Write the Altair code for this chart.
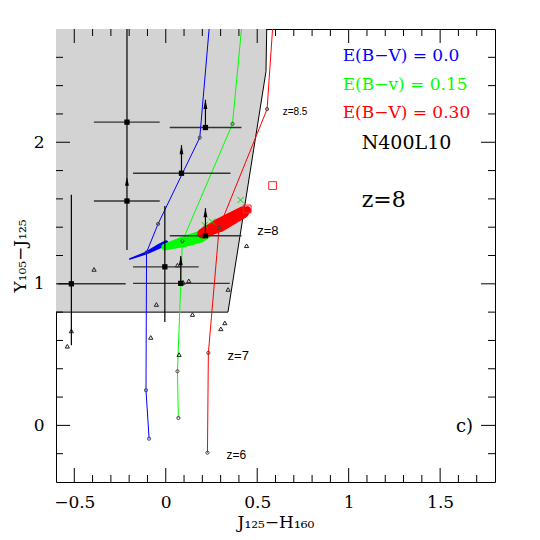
import altair as alt
import pandas as pd

# ---------------- data ----------------
# grey selection region: right boundary (J-H as a function of Y-J)
region_y = [0.8, 2.5, 2.8]
region_x = [0.34, 0.548, 0.552]
# full outline of the region (bottom edge + slanted edge)
outline_x = [-0.6, 0.34, 0.548, 0.552]
outline_y = [0.8, 0.8, 2.5, 2.8]

# model tracks (z = 6, 7, 8, 8.5 ... leaving the frame at the top)
blue_x = [-0.091, -0.108, -0.105, -0.042, 0.186, 0.237]
blue_y = [-0.094, 0.248, 1.222, 1.423, 2.033, 2.80]
green_x = [0.069, 0.064, 0.091, 0.365, 0.414]
green_y = [0.052, 0.382, 1.302, 2.130, 2.80]
red_x = [0.228, 0.233, 0.292, 0.554, 0.584]
red_y = [-0.193, 0.512, 1.397, 2.234, 2.80]

# dense clouds around z=8 for the three extinctions (centre line + width)
blue_band_x = [-0.197, -0.108, -0.033, 0.000]
blue_band_y = [1.175, 1.217, 1.267, 1.285]
blue_band_w = [1.5, 3, 5, 6]
green_band_x = [-0.005, 0.104, 0.186, 0.220]
green_band_y = [1.260, 1.300, 1.330, 1.360]
green_band_w = [7, 11, 12, 12]
red_band_x = [0.200, 0.295, 0.423, 0.445]
red_band_y = [1.355, 1.415, 1.505, 1.520]
red_band_w = [10, 14, 12, 8]

green_cross_x = [0.409, 0.253, 0.213]
green_cross_y = [1.592, 1.439, 1.415]
red_sq_x = [0.584, 0.445]
red_sq_y = [1.694, 1.529]

# other model points (open triangles)
tri_x = [-0.392, 0.064, 0.126, 0.095, 0.341, -0.051, 0.146, 0.323, 0.301,
         -0.516, -0.538, -0.082, 0.073, 0.442]
tri_y = [1.102, 1.132, 1.021, 1.010, 0.960, 0.854, 0.783, 0.724, 0.682,
         0.667, 0.559, 0.621, 0.500, 1.269]

# observed galaxies
gal_x = [-0.212, -0.212, 0.217, 0.086, 0.217, -0.005, -0.516, 0.082]
gal_y = [2.142, 1.585, 2.104, 1.781, 1.340, 1.120, 1.000, 1.003]
gal_xlo = [-0.393, -0.393, 0.022, -0.179, 0.022, -0.179, -0.589, -0.179]
gal_xhi = [-0.033, -0.033, 0.414, 0.354, 0.414, 0.180, -0.219, 0.350]
verr_x = [-0.212, -0.212, -0.005, -0.516]
verr_lo = [1.757, 1.238, 0.731, 0.566]
verr_hi = [2.80, 1.585, 1.550, 1.630]
arr_x = [-0.212, 0.217, 0.086, 0.217, 0.082]
arr_from = [1.585, 2.104, 1.781, 1.340, 1.003]
arr_to = [1.757, 2.300, 1.980, 1.534, 1.196]

# redshift labels
zlab_text = ["z=8.5", "z=8", "z=7", "z=6"]
zlab_x = [0.639, 0.500, 0.338, 0.332]
zlab_y = [2.215, 1.375, 0.488, -0.212]
zlab_size = [10, 13, 13, 12]

legend_text = ["E(B\u2212V) = 0.0", "E(B\u2212v) = 0.15", "E(B\u2212V) = 0.30"]
legend_color = ["#0000ff", "#00ff00", "#ff0000"]
legend_x = [0.967, 0.967, 0.967]
legend_y = [2.607, 2.406, 2.208]

# axis ticks
x_major = [-0.5, 0.0, 0.5, 1.0, 1.5]
x_minor = [-0.4, -0.3, -0.2, -0.1, 0.1, 0.2, 0.3, 0.4, 0.6, 0.7, 0.8, 0.9,
           1.1, 1.2, 1.3, 1.4, 1.6, 1.7]
y_major = [0.0, 1.0, 2.0]
y_minor = [-0.2, 0.2, 0.4, 0.6, 0.8, 1.2, 1.4, 1.6, 1.8, 2.2, 2.4, 2.6]

# ---------------- chart ----------------
W, H = 439, 453
SERIF = "DejaVu Serif"
SANS = "Liberation Sans"

xs = alt.Scale(domain=[-0.6, 1.8], nice=False, zero=False)
ys = alt.Scale(domain=[-0.4, 2.8], nice=False, zero=False)
xaxis = alt.Axis(values=x_major, format="~g", title="J\u2081\u2082\u2085\u2212H\u2081\u2086\u2080",
                 ticks=False, domain=False, grid=False, labelFlush=False,
                 labelFont=SERIF, labelFontSize=17, labelPadding=12, labelColor="black",
                 titleFont=SERIF, titleFontSize=17, titleFontWeight="normal",
                 titleColor="black", titlePadding=4)
yaxis = alt.Axis(values=y_major, format="~g", title="Y\u2081\u2080\u2085\u2212J\u2081\u2082\u2085",
                 ticks=False, domain=False, grid=False, labelFlush=False,
                 labelFont=SERIF, labelFontSize=17, labelPadding=12, labelColor="black",
                 titleFont=SERIF, titleFontSize=17, titleFontWeight="normal",
                 titleColor="black", titlePadding=4)


def X(f):
    return alt.X(f, type="quantitative", scale=xs, axis=xaxis)


def Y(f):
    return alt.Y(f, type="quantitative", scale=ys, axis=yaxis)


layers = []

# grey region
region = pd.DataFrame({"x": region_x, "y": region_y, "x0": [-0.6] * len(region_x)})
layers.append(alt.Chart(region).mark_area(orient="horizontal", color="#d3d3d3", opacity=1)
              .encode(y=Y("y"), x=X("x"), x2="x0"))
outline = pd.DataFrame({"x": outline_x, "y": outline_y, "i": list(range(len(outline_x)))})
layers.append(alt.Chart(outline).mark_line(color="black", strokeWidth=1)
              .encode(x=X("x"), y=Y("y"), order="i:Q"))

# tracks
for tx, ty, col in [(blue_x, blue_y, "#0000ff"), (green_x, green_y, "#00ff00"),
                    (red_x, red_y, "#ff0000")]:
    df = pd.DataFrame({"x": tx, "y": ty, "i": list(range(len(tx)))})
    layers.append(alt.Chart(df).mark_line(color=col, strokeWidth=1, clip=True)
                  .encode(x=X("x"), y=Y("y"), order="i:Q"))

# clouds
for bx, by, bw, col in [(blue_band_x, blue_band_y, blue_band_w, "#0000ff"),
                        (green_band_x, green_band_y, green_band_w, "#00ff00"),
                        (red_band_x, red_band_y, red_band_w, "#ff0000")]:
    df = pd.DataFrame({"x": bx, "y": by, "w": bw, "i": list(range(len(bx)))})
    layers.append(alt.Chart(df).mark_trail(color=col)
                  .encode(x=X("x"), y=Y("y"), order="i:Q",
                          size=alt.Size("w:Q", scale=None, legend=None)))

# dots on tracks
dot_x = blue_x[:-1] + green_x[:-1] + red_x[:-1]
dot_y = blue_y[:-1] + green_y[:-1] + red_y[:-1]
dots = pd.DataFrame({"x": dot_x, "y": dot_y})
layers.append(alt.Chart(dots).mark_point(shape="circle", size=10, filled=False,
                                         color="#444444", strokeWidth=1, opacity=1)
              .encode(x=X("x"), y=Y("y")))

# triangles
tri = pd.DataFrame({"x": tri_x, "y": tri_y})
layers.append(alt.Chart(tri).mark_point(shape="triangle-up", size=18, filled=False,
                                        color="#222222", strokeWidth=1, opacity=1)
              .encode(x=X("x"), y=Y("y")))

# green crosses, red squares
gc = pd.DataFrame({"x": green_cross_x, "y": green_cross_y})
layers.append(alt.Chart(gc).mark_point(shape="M-1,-1L1,1M-1,1L1,-1", size=36, filled=False,
                                       color="#00dd00", strokeWidth=1, opacity=1)
              .encode(x=X("x"), y=Y("y")))
rs = pd.DataFrame({"x": red_sq_x, "y": red_sq_y})
layers.append(alt.Chart(rs).mark_point(shape="square", size=60, filled=False,
                                       color="#ff2222", strokeWidth=1, opacity=1)
              .encode(x=X("x"), y=Y("y")))

# galaxies: error bars
hb = pd.DataFrame({"y": gal_y, "lo": gal_xlo, "hi": gal_xhi})
layers.append(alt.Chart(hb).mark_rule(color="#333333", strokeWidth=1.4)
              .encode(x=X("lo"), x2="hi", y=Y("y")))
vb = pd.DataFrame({"x": verr_x, "lo": verr_lo, "hi": verr_hi})
layers.append(alt.Chart(vb).mark_rule(color="black", strokeWidth=1.2)
              .encode(x=X("x"), y=Y("lo"), y2="hi"))
ar = pd.DataFrame({"x": arr_x, "lo": arr_from, "hi": arr_to})
layers.append(alt.Chart(ar).mark_rule(color="black", strokeWidth=1.2)
              .encode(x=X("x"), y=Y("lo"), y2="hi"))
layers.append(alt.Chart(ar).mark_point(shape="M0,0L-0.55,2.6L0.55,2.6Z", size=49,
                                       filled=True, color="black", opacity=1)
              .encode(x=X("x"), y=Y("hi")))
gp = pd.DataFrame({"x": gal_x, "y": gal_y})
layers.append(alt.Chart(gp).mark_point(shape="square", size=28, filled=True,
                                       color="black", opacity=1)
              .encode(x=X("x"), y=Y("y")))

# texts
zl = pd.DataFrame({"t": zlab_text, "x": zlab_x, "y": zlab_y, "s": zlab_size})
layers.append(alt.Chart(zl).mark_text(font=SANS, align="left", baseline="middle", color="black")
              .encode(x=X("x"), y=Y("y"), text="t:N",
                      size=alt.Size("s:Q", scale=None, legend=None)))
lg = pd.DataFrame({"t": legend_text, "x": legend_x, "y": legend_y, "c": legend_color})
layers.append(alt.Chart(lg).mark_text(font=SERIF, fontSize=17, align="left", baseline="middle")
              .encode(x=X("x"), y=Y("y"), text="t:N",
                      color=alt.Color("c:N", scale=None, legend=None)))
labels = pd.DataFrame({"t": ["N400L10", "z=8", "c)"], "x": [1.071, 1.071, 1.587],
                       "y": [1.994, 1.592, -0.012], "s": [19, 22, 18]})
layers.append(alt.Chart(labels).mark_text(font=SERIF, align="left", baseline="middle", color="black")
              .encode(x=X("x"), y=Y("y"), text="t:N",
                      size=alt.Size("s:Q", scale=None, legend=None)))

# inward ticks on all four sides
for vals, ln in [(x_major, 14), (x_minor, 7)]:
    d = pd.DataFrame({"v": vals})
    layers.append(alt.Chart(d).mark_rule(color="black", strokeWidth=1)
                  .encode(x=X("v"), y=alt.value(H), y2=alt.value(H - ln)))
    layers.append(alt.Chart(d).mark_rule(color="black", strokeWidth=1)
                  .encode(x=X("v"), y=alt.value(0), y2=alt.value(ln)))
for vals, ln in [(y_major, 14), (y_minor, 7)]:
    d = pd.DataFrame({"v": vals})
    layers.append(alt.Chart(d).mark_rule(color="black", strokeWidth=1)
                  .encode(y=Y("v"), x=alt.value(0), x2=alt.value(ln)))
    layers.append(alt.Chart(d).mark_rule(color="black", strokeWidth=1)
                  .encode(y=Y("v"), x=alt.value(W), x2=alt.value(W - ln)))

chart = (alt.layer(*layers)
         .properties(width=W, height=H, autosize=alt.AutoSizeParams(type="none"),
                     padding={"left": 48, "top": 21, "right": 37, "bottom": 50},
                     background="white")
         .configure_view(stroke="black", strokeWidth=1))

chart.save("out.html", embed_options={"renderer": "svg", "actions": False})
